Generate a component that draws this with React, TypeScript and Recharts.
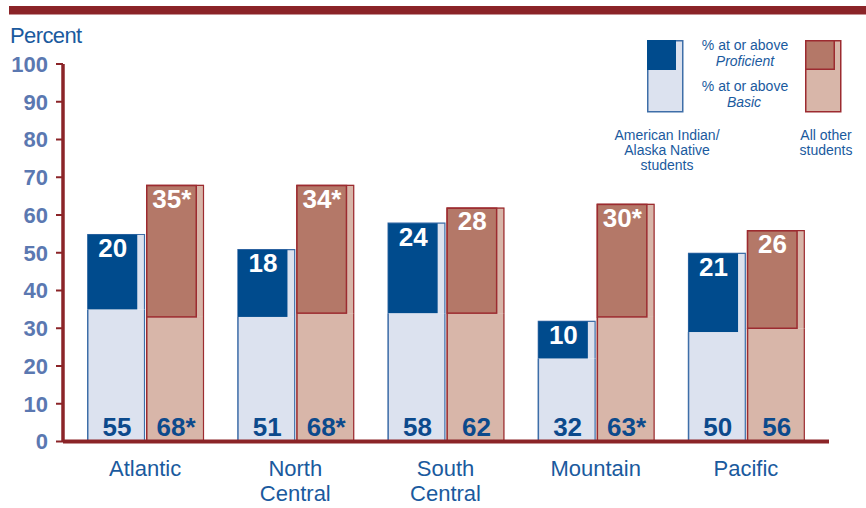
import { Bar, ComposedChart, LabelList, XAxis, YAxis } from 'recharts'

// Regions and NAEP-style achievement percentages
const REGIONS = ['Atlantic', 'North Central', 'South Central', 'Mountain', 'Pacific']
const AI_BASIC = [55, 51, 58, 32, 50]
const AI_PROFICIENT = [20, 18, 24, 10, 21]
const OTHER_BASIC = [68, 68, 62, 63, 56]
const OTHER_PROFICIENT = [35, 34, 28, 30, 26]
// significant difference markers (asterisks) on "All other students"
const OTHER_BASIC_SIG = [true, true, false, true, false]
const OTHER_PROFICIENT_SIG = [true, true, false, true, false]
const Y_TICKS = [0, 10, 20, 30, 40, 50, 60, 70, 80, 90, 100]

const FONT = "'Liberation Sans', Arial, sans-serif"
const AXIS_RED = '#8b2428'
const TEXT_BLUE = '#1a5a9e'
const TICK_BLUE = '#5b78b1'
const VALUE_BLUE = '#0c4a8c'
const BOX_INSET = 8.5

type Palette = { light: string; dark: string; edge: string; boxEdge: string }
const AI_COLORS: Palette = { light: '#dce2ef', dark: '#004b8d', edge: '#3e6ea8', boxEdge: 'none' }
const OTHER_COLORS: Palette = { light: '#d8b6a9', dark: '#b47868', edge: '#9c2b30', boxEdge: '#9c2b30' }

const data = REGIONS.map((region, i) => ({
  region,
  aiRest: AI_BASIC[i] - AI_PROFICIENT[i],
  aiProf: AI_PROFICIENT[i],
  aiBasicLabel: String(AI_BASIC[i]),
  aiProfLabel: String(AI_PROFICIENT[i]),
  otRest: OTHER_BASIC[i] - OTHER_PROFICIENT[i],
  otProf: OTHER_PROFICIENT[i],
  otBasicLabel: OTHER_BASIC[i] + (OTHER_BASIC_SIG[i] ? '*' : ''),
  otProfLabel: OTHER_PROFICIENT[i] + (OTHER_PROFICIENT_SIG[i] ? '*' : ''),
}))

// lower (basic-only) part of a bar
const baseShape = (c: Palette) => (props: any) => {
  const { x, y, width, height } = props
  if (!height) return <g />
  return (
    <g>
      <rect x={x} y={y} width={width} height={height} fill={c.light} />
      <line x1={x + 0.75} y1={y} x2={x + 0.75} y2={y + height} stroke={c.edge} strokeWidth={1.5} />
      <line x1={x + width - 0.5} y1={y} x2={x + width - 0.5} y2={y + height} stroke={c.edge} strokeWidth={1.2} />
    </g>
  )
}

// top part: light bar edge plus the narrower proficient box
const topShape = (c: Palette) => (props: any) => {
  const { x, y, width, height } = props
  if (!height) return <g />
  return (
    <g>
      <rect x={x} y={y} width={width} height={height} fill={c.light} />
      <path
        d={`M${x + 0.75},${y + height} V${y + 0.6} H${x + width - 0.5} V${y + height}`}
        fill="none"
        stroke={c.edge}
        strokeWidth={1.2}
      />
      <rect
        x={x + 0.75}
        y={y + 0.75}
        width={width - BOX_INSET}
        height={height - 0.75}
        fill={c.dark}
        stroke={c.boxEdge}
        strokeWidth={1.5}
      />
    </g>
  )
}

const profLabel = (props: any) => {
  const { x, y, width, value } = props
  return (
    <text
      x={x + (width - BOX_INSET) / 2 + 1}
      y={y + 23}
      textAnchor="middle"
      fill="#fff"
      fontSize={26}
      fontWeight={700}
      fontFamily={FONT}
    >
      {value}
    </text>
  )
}

const basicLabel = (props: any) => {
  const { x, y, width, height, value } = props
  return (
    <text
      x={x + width / 2 + 1}
      y={y + height - 6}
      textAnchor="middle"
      fill={VALUE_BLUE}
      fontSize={26}
      fontWeight={700}
      fontFamily={FONT}
    >
      {value}
    </text>
  )
}

const CategoryTick = (props: any) => {
  const { x, y, payload } = props
  const words = String(payload.value).split(' ')
  return (
    <text x={x} y={y} textAnchor="middle" fill={TEXT_BLUE} fontSize={22} fontFamily={FONT}>
      {words.map((w, i) => (
        <tspan key={w} x={x} y={y + 34 + i * 25.5}>
          {w}
        </tspan>
      ))}
    </text>
  )
}

function Legend() {
  return (
    <svg width={866} height={508} style={{ position: 'absolute', left: 0, top: 0, pointerEvents: 'none' }}>
      <rect x={9} y={6} width={857} height={8.5} fill={AXIS_RED} />
      <text x={10} y={43} fill={TEXT_BLUE} fontSize={22} fontFamily={FONT} letterSpacing={-0.6}>
        Percent
      </text>

      {/* American Indian/Alaska Native key */}
      <rect x={647.75} y={40.75} width={35} height={71} fill={AI_COLORS.light} stroke={AI_COLORS.edge} strokeWidth={1.5} />
      <rect x={647} y={40} width={29} height={30} fill={AI_COLORS.dark} />
      {/* All other students key */}
      <rect x={805.75} y={40.75} width={35} height={71} fill={OTHER_COLORS.light} stroke={OTHER_COLORS.edge} strokeWidth={1.5} />
      <rect x={805.75} y={40.75} width={28.5} height={28.5} fill={OTHER_COLORS.dark} stroke={OTHER_COLORS.edge} strokeWidth={1.5} />

      <g fill={TEXT_BLUE} fontSize={14} fontFamily={FONT} textAnchor="middle">
        <text x={745} y={50}>% at or above</text>
        <text x={745} y={66} fontStyle="italic">Proficient</text>
        <text x={745} y={91}>% at or above</text>
        <text x={744} y={107} fontStyle="italic">Basic</text>
        <text x={667} y={140}>American Indian/</text>
        <text x={667} y={155}>Alaska Native</text>
        <text x={667} y={170}>students</text>
        <text x={826} y={140}>All other</text>
        <text x={826} y={155}>students</text>
      </g>
    </svg>
  )
}

export default function App() {
  return (
    <div style={{ position: 'absolute', left: 0, top: 0, width: 866, height: 508, background: '#fff' }}>
      <ComposedChart
        width={866}
        height={508}
        data={data}
        margin={{ top: 64, right: 37, bottom: 0, left: 0 }}
        barCategoryGap={17}
        barGap={1}
      >
        <YAxis
          type="number"
          domain={[0, 100]}
          ticks={Y_TICKS}
          interval={0}
          width={63}
          tickSize={7}
          tickMargin={8}
          axisLine={{ stroke: AXIS_RED, strokeWidth: 3.5 }}
          tickLine={{ stroke: AXIS_RED, strokeWidth: 2 }}
          tick={{ fill: TICK_BLUE, fontSize: 22, fontWeight: 700, fontFamily: FONT }}
        />
        <XAxis
          dataKey="region"
          height={66.5}
          padding={{ left: 7, right: 8 }}
          tickSize={0}
          tickMargin={0}
          interval={0}
          axisLine={{ stroke: AXIS_RED, strokeWidth: 4 }}
          tickLine={false}
          tick={<CategoryTick />}
        />
        <Bar dataKey="aiRest" stackId="ai" shape={baseShape(AI_COLORS)} isAnimationActive={false}>
          <LabelList dataKey="aiBasicLabel" content={basicLabel} />
        </Bar>
        <Bar dataKey="aiProf" stackId="ai" shape={topShape(AI_COLORS)} isAnimationActive={false}>
          <LabelList dataKey="aiProfLabel" content={profLabel} />
        </Bar>
        <Bar dataKey="otRest" stackId="other" shape={baseShape(OTHER_COLORS)} isAnimationActive={false}>
          <LabelList dataKey="otBasicLabel" content={basicLabel} />
        </Bar>
        <Bar dataKey="otProf" stackId="other" shape={topShape(OTHER_COLORS)} isAnimationActive={false}>
          <LabelList dataKey="otProfLabel" content={profLabel} />
        </Bar>
      </ComposedChart>
      <Legend />
    </div>
  )
}
